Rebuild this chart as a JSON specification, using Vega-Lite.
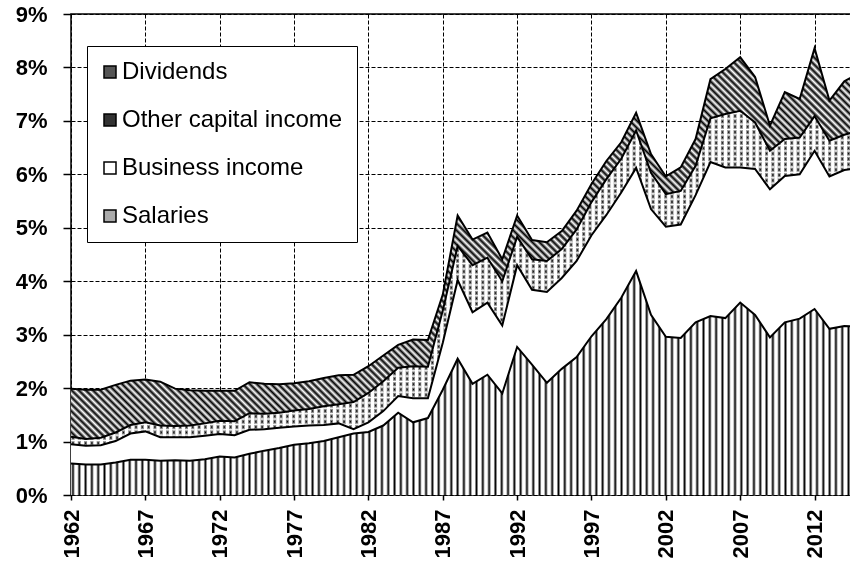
{
"$schema":"https://vega.github.io/schema/vega-lite/v6.json",
"width":780,"height":481,
"autosize":{"type":"none"},
"padding":{"left":71,"top":14,"right":0,"bottom":69},
"background":"#ffffff",
"config":{"view":{"stroke":"#000000","strokeWidth":1.5},"font":"Liberation Sans"},
"data":{"values":[
{"year":1962,"Salaries":0.59,"Business income":0.36,"Other capital income":0.14,"Dividends":0.90},
{"year":1963,"Salaries":0.57,"Business income":0.35,"Other capital income":0.13,"Dividends":0.92},
{"year":1964,"Salaries":0.57,"Business income":0.36,"Other capital income":0.14,"Dividends":0.90},
{"year":1965,"Salaries":0.61,"Business income":0.40,"Other capital income":0.16,"Dividends":0.89},
{"year":1966,"Salaries":0.66,"Business income":0.49,"Other capital income":0.16,"Dividends":0.83},
{"year":1967,"Salaries":0.66,"Business income":0.53,"Other capital income":0.17,"Dividends":0.80},
{"year":1968,"Salaries":0.64,"Business income":0.44,"Other capital income":0.22,"Dividends":0.82},
{"year":1969,"Salaries":0.65,"Business income":0.43,"Other capital income":0.21,"Dividends":0.70},
{"year":1970,"Salaries":0.64,"Business income":0.44,"Other capital income":0.22,"Dividends":0.66},
{"year":1971,"Salaries":0.67,"Business income":0.44,"Other capital income":0.23,"Dividends":0.61},
{"year":1972,"Salaries":0.72,"Business income":0.42,"Other capital income":0.25,"Dividends":0.56},
{"year":1973,"Salaries":0.70,"Business income":0.42,"Other capital income":0.26,"Dividends":0.57},
{"year":1974,"Salaries":0.77,"Business income":0.45,"Other capital income":0.31,"Dividends":0.58},
{"year":1975,"Salaries":0.83,"Business income":0.40,"Other capital income":0.29,"Dividends":0.56},
{"year":1976,"Salaries":0.88,"Business income":0.38,"Other capital income":0.28,"Dividends":0.53},
{"year":1977,"Salaries":0.94,"Business income":0.34,"Other capital income":0.30,"Dividends":0.51},
{"year":1978,"Salaries":0.97,"Business income":0.33,"Other capital income":0.31,"Dividends":0.52},
{"year":1979,"Salaries":1.01,"Business income":0.30,"Other capital income":0.35,"Dividends":0.53},
{"year":1980,"Salaries":1.08,"Business income":0.26,"Other capital income":0.36,"Dividends":0.54},
{"year":1981,"Salaries":1.15,"Business income":0.08,"Other capital income":0.51,"Dividends":0.51},
{"year":1982,"Salaries":1.18,"Business income":0.18,"Other capital income":0.55,"Dividends":0.50},
{"year":1983,"Salaries":1.30,"Business income":0.27,"Other capital income":0.56,"Dividends":0.48},
{"year":1984,"Salaries":1.54,"Business income":0.31,"Other capital income":0.53,"Dividends":0.43},
{"year":1985,"Salaries":1.36,"Business income":0.45,"Other capital income":0.60,"Dividends":0.50},
{"year":1986,"Salaries":1.44,"Business income":0.37,"Other capital income":0.59,"Dividends":0.50},
{"year":1987,"Salaries":1.97,"Business income":0.88,"Other capital income":0.60,"Dividends":0.30},
{"year":1988,"Salaries":2.55,"Business income":1.47,"Other capital income":0.64,"Dividends":0.57},
{"year":1989,"Salaries":2.08,"Business income":1.34,"Other capital income":0.88,"Dividends":0.48},
{"year":1990,"Salaries":2.25,"Business income":1.35,"Other capital income":0.84,"Dividends":0.47},
{"year":1991,"Salaries":1.90,"Business income":1.27,"Other capital income":0.83,"Dividends":0.41},
{"year":1992,"Salaries":2.77,"Business income":1.53,"Other capital income":0.53,"Dividends":0.40},
{"year":1993,"Salaries":2.44,"Business income":1.40,"Other capital income":0.57,"Dividends":0.36},
{"year":1994,"Salaries":2.10,"Business income":1.70,"Other capital income":0.58,"Dividends":0.35},
{"year":1995,"Salaries":2.36,"Business income":1.70,"Other capital income":0.54,"Dividends":0.34},
{"year":1996,"Salaries":2.58,"Business income":1.80,"Other capital income":0.59,"Dividends":0.35},
{"year":1997,"Salaries":2.97,"Business income":1.89,"Other capital income":0.62,"Dividends":0.34},
{"year":1998,"Salaries":3.29,"Business income":1.95,"Other capital income":0.67,"Dividends":0.34},
{"year":1999,"Salaries":3.69,"Business income":1.97,"Other capital income":0.63,"Dividends":0.31},
{"year":2000,"Salaries":4.19,"Business income":1.93,"Other capital income":0.70,"Dividends":0.33},
{"year":2001,"Salaries":3.37,"Business income":1.98,"Other capital income":0.68,"Dividends":0.35},
{"year":2002,"Salaries":2.96,"Business income":2.06,"Other capital income":0.61,"Dividends":0.33},
{"year":2003,"Salaries":2.94,"Business income":2.12,"Other capital income":0.63,"Dividends":0.44},
{"year":2004,"Salaries":3.23,"Business income":2.38,"Other capital income":0.55,"Dividends":0.50},
{"year":2005,"Salaries":3.35,"Business income":2.88,"Other capital income":0.82,"Dividends":0.73},
{"year":2006,"Salaries":3.31,"Business income":2.82,"Other capital income":1.00,"Dividends":0.84},
{"year":2007,"Salaries":3.60,"Business income":2.53,"Other capital income":1.06,"Dividends":1.00},
{"year":2008,"Salaries":3.37,"Business income":2.73,"Other capital income":0.87,"Dividends":0.85},
{"year":2009,"Salaries":2.95,"Business income":2.77,"Other capital income":0.72,"Dividends":0.47},
{"year":2010,"Salaries":3.23,"Business income":2.74,"Other capital income":0.69,"Dividends":0.88},
{"year":2011,"Salaries":3.30,"Business income":2.70,"Other capital income":0.69,"Dividends":0.72},
{"year":2012,"Salaries":3.48,"Business income":2.96,"Other capital income":0.65,"Dividends":1.27},
{"year":2013,"Salaries":3.11,"Business income":2.85,"Other capital income":0.67,"Dividends":0.75},
{"year":2014,"Salaries":3.16,"Business income":2.92,"Other capital income":0.66,"Dividends":1.00},
{"year":2015,"Salaries":3.15,"Business income":2.97,"Other capital income":0.70,"Dividends":1.08}
]},
"transform":[
{"fold":["Salaries","Business income","Other capital income","Dividends"],"as":["key","value"]},
{"stack":"value","groupby":["year"],"as":["lo","hi"]}
],
"encoding":{
"x":{"field":"year","type":"quantitative","scale":{"domain":[1962,2014.45],"nice":false,"zero":false},
"axis":{"values":[1962,1967,1972,1977,1982,1987,1992,1997,2002,2007,2012],"format":"d","title":null,"labelAngle":270,"labelAlign":"right","labelBaseline":"middle","labelFont":"Liberation Sans","labelFontSize":22,"labelFontWeight":"bold","labelColor":"#000000","labelPadding":9,"labelOverlap":false,"labelFlush":false,"tickSize":5,"tickColor":"#000000","tickWidth":1.5,"domain":false,"grid":true,"gridColor":"#000000","gridDash":[4,2],"gridWidth":1,"gridOpacity":1}},
"y":{"field":"hi","type":"quantitative","scale":{"domain":[0,9],"nice":false,"zero":true},
"axis":{"values":[0,1,2,3,4,5,6,7,8,9],"labelExpr":"datum.value + '%'","title":null,"labelFont":"Liberation Sans","labelFontSize":22,"labelFontWeight":"bold","labelColor":"#000000","labelPadding":16,"labelOverlap":false,"tickSize":8,"tickColor":"#000000","tickWidth":1.5,"domain":false,"grid":true,"gridColor":"#000000","gridDash":[4,2],"gridWidth":1,"gridOpacity":1}}
},
"layer":[
{"mark":{"type":"area","opacity":1},
"encoding":{"y2":{"field":"lo"},
"color":{"field":"key","type":"nominal","scale":{"domain":["Dividends","Other capital income","Business income","Salaries"],"range":["#555555","#333333","#ffffff","#aaaaaa"]},
"legend":{"orient":"none","legendX":16,"legendY":32,"title":null,"direction":"vertical","fillColor":"#ffffff","strokeColor":"#000000","padding":14,"symbolOffset":-3,"labelOffset":0,"rowPadding":24,"labelFont":"Liberation Sans","labelFontSize":24,"labelColor":"#000000","labelLimit":400,"symbolType":"square","symbolSize":144,"symbolStrokeColor":"#000000","symbolStrokeWidth":1.5,"symbolOpacity":1,"zindex":1}}}},
{"transform":[{"filter":"datum.key === 'Dividends'"}],
"mark":{"type":"area","opacity":1,"fill":{"gradient":"linear","x1":0,"y1":1,"x2":1.2,"y2":0.4,"stops":[
{"offset":0,"color":"#000"},{"offset":0.003,"color":"#fff"},{"offset":0.006,"color":"#000"},{"offset":0.009,"color":"#fff"},{"offset":0.012,"color":"#000"},{"offset":0.015,"color":"#fff"},{"offset":0.018,"color":"#000"},{"offset":0.021,"color":"#fff"},{"offset":0.024,"color":"#000"},{"offset":0.027,"color":"#fff"},
{"offset":0.03,"color":"#000"},{"offset":0.033,"color":"#fff"},{"offset":0.036,"color":"#000"},{"offset":0.039,"color":"#fff"},{"offset":0.042,"color":"#000"},{"offset":0.045,"color":"#fff"},{"offset":0.048,"color":"#000"},{"offset":0.051,"color":"#fff"},{"offset":0.054,"color":"#000"},{"offset":0.057,"color":"#fff"},
{"offset":0.06,"color":"#000"},{"offset":0.063,"color":"#fff"},{"offset":0.066,"color":"#000"},{"offset":0.069,"color":"#fff"},{"offset":0.072,"color":"#000"},{"offset":0.075,"color":"#fff"},{"offset":0.078,"color":"#000"},{"offset":0.081,"color":"#fff"},{"offset":0.084,"color":"#000"},{"offset":0.087,"color":"#fff"},
{"offset":0.09,"color":"#000"},{"offset":0.093,"color":"#fff"},{"offset":0.096,"color":"#000"},{"offset":0.099,"color":"#fff"},{"offset":0.102,"color":"#000"},{"offset":0.105,"color":"#fff"},{"offset":0.108,"color":"#000"},{"offset":0.111,"color":"#fff"},{"offset":0.114,"color":"#000"},{"offset":0.117,"color":"#fff"},
{"offset":0.12,"color":"#000"},{"offset":0.123,"color":"#fff"},{"offset":0.126,"color":"#000"},{"offset":0.129,"color":"#fff"},{"offset":0.132,"color":"#000"},{"offset":0.135,"color":"#fff"},{"offset":0.138,"color":"#000"},{"offset":0.141,"color":"#fff"},{"offset":0.144,"color":"#000"},{"offset":0.147,"color":"#fff"},
{"offset":0.15,"color":"#000"},{"offset":0.153,"color":"#fff"},{"offset":0.156,"color":"#000"},{"offset":0.159,"color":"#fff"},{"offset":0.162,"color":"#000"},{"offset":0.165,"color":"#fff"},{"offset":0.168,"color":"#000"},{"offset":0.171,"color":"#fff"},{"offset":0.174,"color":"#000"},{"offset":0.177,"color":"#fff"},
{"offset":0.18,"color":"#000"},{"offset":0.183,"color":"#fff"},{"offset":0.186,"color":"#000"},{"offset":0.189,"color":"#fff"},{"offset":0.192,"color":"#000"},{"offset":0.195,"color":"#fff"},{"offset":0.198,"color":"#000"},{"offset":0.201,"color":"#fff"},{"offset":0.204,"color":"#000"},{"offset":0.207,"color":"#fff"},
{"offset":0.21,"color":"#000"},{"offset":0.213,"color":"#fff"},{"offset":0.216,"color":"#000"},{"offset":0.219,"color":"#fff"},{"offset":0.222,"color":"#000"},{"offset":0.225,"color":"#fff"},{"offset":0.228,"color":"#000"},{"offset":0.231,"color":"#fff"},{"offset":0.234,"color":"#000"},{"offset":0.237,"color":"#fff"},
{"offset":0.24,"color":"#000"},{"offset":0.243,"color":"#fff"},{"offset":0.246,"color":"#000"},{"offset":0.249,"color":"#fff"},{"offset":0.252,"color":"#000"},{"offset":0.255,"color":"#fff"},{"offset":0.258,"color":"#000"},{"offset":0.261,"color":"#fff"},{"offset":0.264,"color":"#000"},{"offset":0.267,"color":"#fff"},
{"offset":0.27,"color":"#000"},{"offset":0.273,"color":"#fff"},{"offset":0.276,"color":"#000"},{"offset":0.279,"color":"#fff"},{"offset":0.282,"color":"#000"},{"offset":0.285,"color":"#fff"},{"offset":0.288,"color":"#000"},{"offset":0.291,"color":"#fff"},{"offset":0.294,"color":"#000"},{"offset":0.297,"color":"#fff"},
{"offset":0.3,"color":"#000"},{"offset":0.303,"color":"#fff"},{"offset":0.306,"color":"#000"},{"offset":0.309,"color":"#fff"},{"offset":0.312,"color":"#000"},{"offset":0.315,"color":"#fff"},{"offset":0.318,"color":"#000"},{"offset":0.321,"color":"#fff"},{"offset":0.324,"color":"#000"},{"offset":0.327,"color":"#fff"},
{"offset":0.33,"color":"#000"},{"offset":0.333,"color":"#fff"},{"offset":0.336,"color":"#000"},{"offset":0.339,"color":"#fff"},{"offset":0.342,"color":"#000"},{"offset":0.345,"color":"#fff"},{"offset":0.348,"color":"#000"},{"offset":0.351,"color":"#fff"},{"offset":0.354,"color":"#000"},{"offset":0.357,"color":"#fff"},
{"offset":0.36,"color":"#000"},{"offset":0.363,"color":"#fff"},{"offset":0.366,"color":"#000"},{"offset":0.369,"color":"#fff"},{"offset":0.372,"color":"#000"},{"offset":0.375,"color":"#fff"},{"offset":0.378,"color":"#000"},{"offset":0.381,"color":"#fff"},{"offset":0.384,"color":"#000"},{"offset":0.387,"color":"#fff"},
{"offset":0.39,"color":"#000"},{"offset":0.393,"color":"#fff"},{"offset":0.396,"color":"#000"},{"offset":0.399,"color":"#fff"},{"offset":0.402,"color":"#000"},{"offset":0.405,"color":"#fff"},{"offset":0.408,"color":"#000"},{"offset":0.411,"color":"#fff"},{"offset":0.414,"color":"#000"},{"offset":0.417,"color":"#fff"},
{"offset":0.42,"color":"#000"},{"offset":0.423,"color":"#fff"},{"offset":0.426,"color":"#000"},{"offset":0.429,"color":"#fff"},{"offset":0.432,"color":"#000"},{"offset":0.435,"color":"#fff"},{"offset":0.438,"color":"#000"},{"offset":0.441,"color":"#fff"},{"offset":0.444,"color":"#000"},{"offset":0.447,"color":"#fff"},
{"offset":0.45,"color":"#000"},{"offset":0.453,"color":"#fff"},{"offset":0.456,"color":"#000"},{"offset":0.459,"color":"#fff"},{"offset":0.462,"color":"#000"},{"offset":0.465,"color":"#fff"},{"offset":0.468,"color":"#000"},{"offset":0.471,"color":"#fff"},{"offset":0.474,"color":"#000"},{"offset":0.477,"color":"#fff"},
{"offset":0.48,"color":"#000"},{"offset":0.483,"color":"#fff"},{"offset":0.486,"color":"#000"},{"offset":0.489,"color":"#fff"},{"offset":0.492,"color":"#000"},{"offset":0.495,"color":"#fff"},{"offset":0.498,"color":"#000"},{"offset":0.501,"color":"#fff"},{"offset":0.504,"color":"#000"},{"offset":0.507,"color":"#fff"},
{"offset":0.51,"color":"#000"},{"offset":0.513,"color":"#fff"},{"offset":0.516,"color":"#000"},{"offset":0.519,"color":"#fff"},{"offset":0.522,"color":"#000"},{"offset":0.525,"color":"#fff"},{"offset":0.528,"color":"#000"},{"offset":0.531,"color":"#fff"},{"offset":0.534,"color":"#000"},{"offset":0.537,"color":"#fff"},
{"offset":0.54,"color":"#000"},{"offset":0.543,"color":"#fff"},{"offset":0.546,"color":"#000"},{"offset":0.549,"color":"#fff"},{"offset":0.552,"color":"#000"},{"offset":0.555,"color":"#fff"},{"offset":0.558,"color":"#000"},{"offset":0.561,"color":"#fff"},{"offset":0.564,"color":"#000"},{"offset":0.567,"color":"#fff"},
{"offset":0.57,"color":"#000"},{"offset":0.573,"color":"#fff"},{"offset":0.576,"color":"#000"},{"offset":0.579,"color":"#fff"},{"offset":0.582,"color":"#000"},{"offset":0.585,"color":"#fff"},{"offset":0.588,"color":"#000"},{"offset":0.591,"color":"#fff"},{"offset":0.594,"color":"#000"},{"offset":0.597,"color":"#fff"},
{"offset":0.6,"color":"#000"},{"offset":0.603,"color":"#fff"},{"offset":0.606,"color":"#000"},{"offset":0.609,"color":"#fff"},{"offset":0.612,"color":"#000"},{"offset":0.615,"color":"#fff"},{"offset":0.618,"color":"#000"},{"offset":0.621,"color":"#fff"},{"offset":0.624,"color":"#000"},{"offset":0.627,"color":"#fff"},
{"offset":0.63,"color":"#000"},{"offset":0.633,"color":"#fff"},{"offset":0.636,"color":"#000"},{"offset":0.639,"color":"#fff"},{"offset":0.642,"color":"#000"},{"offset":0.645,"color":"#fff"},{"offset":0.648,"color":"#000"},{"offset":0.651,"color":"#fff"},{"offset":0.654,"color":"#000"},{"offset":0.657,"color":"#fff"},
{"offset":0.66,"color":"#000"},{"offset":0.663,"color":"#fff"},{"offset":0.666,"color":"#000"},{"offset":0.669,"color":"#fff"},{"offset":0.672,"color":"#000"},{"offset":0.675,"color":"#fff"},{"offset":0.678,"color":"#000"},{"offset":0.681,"color":"#fff"},{"offset":0.684,"color":"#000"},{"offset":0.687,"color":"#fff"},
{"offset":0.69,"color":"#000"},{"offset":0.693,"color":"#fff"},{"offset":0.696,"color":"#000"},{"offset":0.699,"color":"#fff"},{"offset":0.702,"color":"#000"},{"offset":0.705,"color":"#fff"},{"offset":0.708,"color":"#000"},{"offset":0.711,"color":"#fff"},{"offset":0.714,"color":"#000"},{"offset":0.717,"color":"#fff"},
{"offset":0.72,"color":"#000"},{"offset":0.723,"color":"#fff"},{"offset":0.726,"color":"#000"},{"offset":0.729,"color":"#fff"},{"offset":0.732,"color":"#000"},{"offset":0.735,"color":"#fff"},{"offset":0.738,"color":"#000"},{"offset":0.741,"color":"#fff"},{"offset":0.744,"color":"#000"},{"offset":0.747,"color":"#fff"},
{"offset":0.75,"color":"#000"},{"offset":0.753,"color":"#fff"},{"offset":0.756,"color":"#000"},{"offset":0.759,"color":"#fff"},{"offset":0.762,"color":"#000"},{"offset":0.765,"color":"#fff"},{"offset":0.768,"color":"#000"},{"offset":0.771,"color":"#fff"},{"offset":0.774,"color":"#000"},{"offset":0.777,"color":"#fff"},
{"offset":0.78,"color":"#000"},{"offset":0.783,"color":"#fff"},{"offset":0.786,"color":"#000"},{"offset":0.789,"color":"#fff"},{"offset":0.792,"color":"#000"},{"offset":0.795,"color":"#fff"},{"offset":0.798,"color":"#000"},{"offset":0.801,"color":"#fff"},{"offset":0.804,"color":"#000"},{"offset":0.807,"color":"#fff"},
{"offset":0.81,"color":"#000"},{"offset":0.813,"color":"#fff"},{"offset":0.816,"color":"#000"},{"offset":0.819,"color":"#fff"},{"offset":0.822,"color":"#000"},{"offset":0.825,"color":"#fff"},{"offset":0.828,"color":"#000"},{"offset":0.831,"color":"#fff"},{"offset":0.834,"color":"#000"},{"offset":0.837,"color":"#fff"},
{"offset":0.84,"color":"#000"},{"offset":0.843,"color":"#fff"},{"offset":0.846,"color":"#000"},{"offset":0.849,"color":"#fff"},{"offset":0.852,"color":"#000"},{"offset":0.855,"color":"#fff"},{"offset":0.858,"color":"#000"},{"offset":0.861,"color":"#fff"},{"offset":0.864,"color":"#000"},{"offset":0.867,"color":"#fff"},
{"offset":0.87,"color":"#000"},{"offset":0.873,"color":"#fff"},{"offset":0.876,"color":"#000"},{"offset":0.879,"color":"#fff"},{"offset":0.882,"color":"#000"},{"offset":0.885,"color":"#fff"},{"offset":0.888,"color":"#000"},{"offset":0.891,"color":"#fff"},{"offset":0.894,"color":"#000"},{"offset":0.897,"color":"#fff"},
{"offset":0.9,"color":"#000"},{"offset":0.903,"color":"#fff"},{"offset":0.906,"color":"#000"},{"offset":0.909,"color":"#fff"},{"offset":0.912,"color":"#000"},{"offset":0.915,"color":"#fff"},{"offset":0.918,"color":"#000"},{"offset":0.921,"color":"#fff"},{"offset":0.924,"color":"#000"},{"offset":0.927,"color":"#fff"},
{"offset":0.93,"color":"#000"},{"offset":0.933,"color":"#fff"},{"offset":0.936,"color":"#000"},{"offset":0.939,"color":"#fff"},{"offset":0.942,"color":"#000"},{"offset":0.945,"color":"#fff"},{"offset":0.948,"color":"#000"},{"offset":0.951,"color":"#fff"},{"offset":0.954,"color":"#000"},{"offset":0.957,"color":"#fff"},
{"offset":0.96,"color":"#000"},{"offset":0.963,"color":"#fff"},{"offset":0.966,"color":"#000"},{"offset":0.969,"color":"#fff"},{"offset":0.972,"color":"#000"},{"offset":0.975,"color":"#fff"},{"offset":0.978,"color":"#000"},{"offset":0.981,"color":"#fff"},{"offset":0.984,"color":"#000"},{"offset":0.987,"color":"#fff"},
{"offset":0.99,"color":"#000"},{"offset":0.993,"color":"#fff"},{"offset":0.996,"color":"#000"},{"offset":0.999,"color":"#fff"}
]}},
"encoding":{"y2":{"field":"lo"}}},
{"transform":[{"filter":"datum.key === 'Other capital income'"}],
"mark":{"type":"area","opacity":1,"fill":{"gradient":"linear","x1":0,"y1":0,"x2":0,"y2":1,"stops":[
{"offset":0,"color":"#000"},{"offset":0.008,"color":"#fff"},{"offset":0.016,"color":"#000"},{"offset":0.024,"color":"#fff"},{"offset":0.032,"color":"#000"},{"offset":0.04,"color":"#fff"},{"offset":0.048,"color":"#000"},{"offset":0.056,"color":"#fff"},{"offset":0.064,"color":"#000"},{"offset":0.072,"color":"#fff"},{"offset":0.08,"color":"#000"},{"offset":0.088,"color":"#fff"},{"offset":0.096,"color":"#000"},{"offset":0.104,"color":"#fff"},{"offset":0.112,"color":"#000"},{"offset":0.12,"color":"#fff"},{"offset":0.128,"color":"#000"},{"offset":0.136,"color":"#fff"},{"offset":0.144,"color":"#000"},{"offset":0.152,"color":"#fff"},{"offset":0.16,"color":"#000"},{"offset":0.168,"color":"#fff"},{"offset":0.176,"color":"#000"},{"offset":0.184,"color":"#fff"},{"offset":0.192,"color":"#000"},
{"offset":0.2,"color":"#fff"},{"offset":0.208,"color":"#000"},{"offset":0.216,"color":"#fff"},{"offset":0.224,"color":"#000"},{"offset":0.232,"color":"#fff"},{"offset":0.24,"color":"#000"},{"offset":0.248,"color":"#fff"},{"offset":0.256,"color":"#000"},{"offset":0.264,"color":"#fff"},{"offset":0.272,"color":"#000"},{"offset":0.28,"color":"#fff"},{"offset":0.288,"color":"#000"},{"offset":0.296,"color":"#fff"},{"offset":0.304,"color":"#000"},{"offset":0.312,"color":"#fff"},{"offset":0.32,"color":"#000"},{"offset":0.328,"color":"#fff"},{"offset":0.336,"color":"#000"},{"offset":0.344,"color":"#fff"},{"offset":0.352,"color":"#000"},{"offset":0.36,"color":"#fff"},{"offset":0.368,"color":"#000"},{"offset":0.376,"color":"#fff"},{"offset":0.384,"color":"#000"},{"offset":0.392,"color":"#fff"},
{"offset":0.4,"color":"#000"},{"offset":0.408,"color":"#fff"},{"offset":0.416,"color":"#000"},{"offset":0.424,"color":"#fff"},{"offset":0.432,"color":"#000"},{"offset":0.44,"color":"#fff"},{"offset":0.448,"color":"#000"},{"offset":0.456,"color":"#fff"},{"offset":0.464,"color":"#000"},{"offset":0.472,"color":"#fff"},{"offset":0.48,"color":"#000"},{"offset":0.488,"color":"#fff"},{"offset":0.496,"color":"#000"},{"offset":0.504,"color":"#fff"},{"offset":0.512,"color":"#000"},{"offset":0.52,"color":"#fff"},{"offset":0.528,"color":"#000"},{"offset":0.536,"color":"#fff"},{"offset":0.544,"color":"#000"},{"offset":0.552,"color":"#fff"},{"offset":0.56,"color":"#000"},{"offset":0.568,"color":"#fff"},{"offset":0.576,"color":"#000"},{"offset":0.584,"color":"#fff"},{"offset":0.592,"color":"#000"},
{"offset":0.6,"color":"#fff"},{"offset":0.608,"color":"#000"},{"offset":0.616,"color":"#fff"},{"offset":0.624,"color":"#000"},{"offset":0.632,"color":"#fff"},{"offset":0.64,"color":"#000"},{"offset":0.648,"color":"#fff"},{"offset":0.656,"color":"#000"},{"offset":0.664,"color":"#fff"},{"offset":0.672,"color":"#000"},{"offset":0.68,"color":"#fff"},{"offset":0.688,"color":"#000"},{"offset":0.696,"color":"#fff"},{"offset":0.704,"color":"#000"},{"offset":0.712,"color":"#fff"},{"offset":0.72,"color":"#000"},{"offset":0.728,"color":"#fff"},{"offset":0.736,"color":"#000"},{"offset":0.744,"color":"#fff"},{"offset":0.752,"color":"#000"},{"offset":0.76,"color":"#fff"},{"offset":0.768,"color":"#000"},{"offset":0.776,"color":"#fff"},{"offset":0.784,"color":"#000"},{"offset":0.792,"color":"#fff"},
{"offset":0.8,"color":"#000"},{"offset":0.808,"color":"#fff"},{"offset":0.816,"color":"#000"},{"offset":0.824,"color":"#fff"},{"offset":0.832,"color":"#000"},{"offset":0.84,"color":"#fff"},{"offset":0.848,"color":"#000"},{"offset":0.856,"color":"#fff"},{"offset":0.864,"color":"#000"},{"offset":0.872,"color":"#fff"},{"offset":0.88,"color":"#000"},{"offset":0.888,"color":"#fff"},{"offset":0.896,"color":"#000"},{"offset":0.904,"color":"#fff"},{"offset":0.912,"color":"#000"},{"offset":0.92,"color":"#fff"},{"offset":0.928,"color":"#000"},{"offset":0.936,"color":"#fff"},{"offset":0.944,"color":"#000"},{"offset":0.952,"color":"#fff"},{"offset":0.96,"color":"#000"},{"offset":0.968,"color":"#fff"},{"offset":0.976,"color":"#000"},{"offset":0.984,"color":"#fff"},{"offset":0.992,"color":"#000"},
{"offset":1,"color":"#fff"}
]}},
"encoding":{"y2":{"field":"lo"}}},
{"transform":[{"filter":"datum.key === 'Salaries'"}],
"mark":{"type":"area","opacity":1,"fill":"#000000"},
"encoding":{"y2":{"field":"lo"}}},
{"transform":[{"filter":"datum.key === 'Other capital income' || datum.key === 'Salaries'"}],
"mark":{"type":"area","opacity":1,"blend":"lighten","fill":{"gradient":"linear","x1":0,"y1":0,"x2":1,"y2":0,"stops":[
{"offset":0,"color":"#fff"},{"offset":0.0025,"color":"#000"},{"offset":0.005,"color":"#fff"},{"offset":0.008,"color":"#fff"},{"offset":0.0105,"color":"#000"},{"offset":0.013,"color":"#fff"},{"offset":0.016,"color":"#fff"},{"offset":0.0185,"color":"#000"},{"offset":0.021,"color":"#fff"},{"offset":0.024,"color":"#fff"},{"offset":0.0265,"color":"#000"},{"offset":0.029,"color":"#fff"},{"offset":0.032,"color":"#fff"},{"offset":0.0345,"color":"#000"},{"offset":0.037,"color":"#fff"},{"offset":0.04,"color":"#fff"},{"offset":0.0425,"color":"#000"},{"offset":0.045,"color":"#fff"},{"offset":0.048,"color":"#fff"},{"offset":0.0505,"color":"#000"},{"offset":0.053,"color":"#fff"},{"offset":0.056,"color":"#fff"},{"offset":0.0585,"color":"#000"},{"offset":0.061,"color":"#fff"},{"offset":0.064,"color":"#fff"},{"offset":0.0665,"color":"#000"},{"offset":0.069,"color":"#fff"},{"offset":0.072,"color":"#fff"},{"offset":0.0745,"color":"#000"},{"offset":0.077,"color":"#fff"},{"offset":0.08,"color":"#fff"},{"offset":0.0825,"color":"#000"},{"offset":0.085,"color":"#fff"},{"offset":0.088,"color":"#fff"},{"offset":0.0905,"color":"#000"},{"offset":0.093,"color":"#fff"},{"offset":0.096,"color":"#fff"},{"offset":0.0985,"color":"#000"},{"offset":0.101,"color":"#fff"},{"offset":0.104,"color":"#fff"},{"offset":0.1065,"color":"#000"},{"offset":0.109,"color":"#fff"},{"offset":0.112,"color":"#fff"},{"offset":0.1145,"color":"#000"},{"offset":0.117,"color":"#fff"},{"offset":0.12,"color":"#fff"},{"offset":0.1225,"color":"#000"},{"offset":0.125,"color":"#fff"},{"offset":0.128,"color":"#fff"},{"offset":0.1305,"color":"#000"},{"offset":0.133,"color":"#fff"},{"offset":0.136,"color":"#fff"},{"offset":0.1385,"color":"#000"},{"offset":0.141,"color":"#fff"},{"offset":0.144,"color":"#fff"},{"offset":0.1465,"color":"#000"},{"offset":0.149,"color":"#fff"},{"offset":0.152,"color":"#fff"},{"offset":0.1545,"color":"#000"},{"offset":0.157,"color":"#fff"},{"offset":0.16,"color":"#fff"},{"offset":0.1625,"color":"#000"},{"offset":0.165,"color":"#fff"},{"offset":0.168,"color":"#fff"},{"offset":0.1705,"color":"#000"},{"offset":0.173,"color":"#fff"},{"offset":0.176,"color":"#fff"},{"offset":0.1785,"color":"#000"},{"offset":0.181,"color":"#fff"},{"offset":0.184,"color":"#fff"},{"offset":0.1865,"color":"#000"},{"offset":0.189,"color":"#fff"},{"offset":0.192,"color":"#fff"},{"offset":0.1945,"color":"#000"},{"offset":0.197,"color":"#fff"},
{"offset":0.2,"color":"#fff"},{"offset":0.2025,"color":"#000"},{"offset":0.205,"color":"#fff"},{"offset":0.208,"color":"#fff"},{"offset":0.2105,"color":"#000"},{"offset":0.213,"color":"#fff"},{"offset":0.216,"color":"#fff"},{"offset":0.2185,"color":"#000"},{"offset":0.221,"color":"#fff"},{"offset":0.224,"color":"#fff"},{"offset":0.2265,"color":"#000"},{"offset":0.229,"color":"#fff"},{"offset":0.232,"color":"#fff"},{"offset":0.2345,"color":"#000"},{"offset":0.237,"color":"#fff"},{"offset":0.24,"color":"#fff"},{"offset":0.2425,"color":"#000"},{"offset":0.245,"color":"#fff"},{"offset":0.248,"color":"#fff"},{"offset":0.2505,"color":"#000"},{"offset":0.253,"color":"#fff"},{"offset":0.256,"color":"#fff"},{"offset":0.2585,"color":"#000"},{"offset":0.261,"color":"#fff"},{"offset":0.264,"color":"#fff"},{"offset":0.2665,"color":"#000"},{"offset":0.269,"color":"#fff"},{"offset":0.272,"color":"#fff"},{"offset":0.2745,"color":"#000"},{"offset":0.277,"color":"#fff"},{"offset":0.28,"color":"#fff"},{"offset":0.2825,"color":"#000"},{"offset":0.285,"color":"#fff"},{"offset":0.288,"color":"#fff"},{"offset":0.2905,"color":"#000"},{"offset":0.293,"color":"#fff"},{"offset":0.296,"color":"#fff"},{"offset":0.2985,"color":"#000"},{"offset":0.301,"color":"#fff"},{"offset":0.304,"color":"#fff"},{"offset":0.3065,"color":"#000"},{"offset":0.309,"color":"#fff"},{"offset":0.312,"color":"#fff"},{"offset":0.3145,"color":"#000"},{"offset":0.317,"color":"#fff"},{"offset":0.32,"color":"#fff"},{"offset":0.3225,"color":"#000"},{"offset":0.325,"color":"#fff"},{"offset":0.328,"color":"#fff"},{"offset":0.3305,"color":"#000"},{"offset":0.333,"color":"#fff"},{"offset":0.336,"color":"#fff"},{"offset":0.3385,"color":"#000"},{"offset":0.341,"color":"#fff"},{"offset":0.344,"color":"#fff"},{"offset":0.3465,"color":"#000"},{"offset":0.349,"color":"#fff"},{"offset":0.352,"color":"#fff"},{"offset":0.3545,"color":"#000"},{"offset":0.357,"color":"#fff"},{"offset":0.36,"color":"#fff"},{"offset":0.3625,"color":"#000"},{"offset":0.365,"color":"#fff"},{"offset":0.368,"color":"#fff"},{"offset":0.3705,"color":"#000"},{"offset":0.373,"color":"#fff"},{"offset":0.376,"color":"#fff"},{"offset":0.3785,"color":"#000"},{"offset":0.381,"color":"#fff"},{"offset":0.384,"color":"#fff"},{"offset":0.3865,"color":"#000"},{"offset":0.389,"color":"#fff"},{"offset":0.392,"color":"#fff"},{"offset":0.3945,"color":"#000"},{"offset":0.397,"color":"#fff"},
{"offset":0.4,"color":"#fff"},{"offset":0.4025,"color":"#000"},{"offset":0.405,"color":"#fff"},{"offset":0.408,"color":"#fff"},{"offset":0.4105,"color":"#000"},{"offset":0.413,"color":"#fff"},{"offset":0.416,"color":"#fff"},{"offset":0.4185,"color":"#000"},{"offset":0.421,"color":"#fff"},{"offset":0.424,"color":"#fff"},{"offset":0.4265,"color":"#000"},{"offset":0.429,"color":"#fff"},{"offset":0.432,"color":"#fff"},{"offset":0.4345,"color":"#000"},{"offset":0.437,"color":"#fff"},{"offset":0.44,"color":"#fff"},{"offset":0.4425,"color":"#000"},{"offset":0.445,"color":"#fff"},{"offset":0.448,"color":"#fff"},{"offset":0.4505,"color":"#000"},{"offset":0.453,"color":"#fff"},{"offset":0.456,"color":"#fff"},{"offset":0.4585,"color":"#000"},{"offset":0.461,"color":"#fff"},{"offset":0.464,"color":"#fff"},{"offset":0.4665,"color":"#000"},{"offset":0.469,"color":"#fff"},{"offset":0.472,"color":"#fff"},{"offset":0.4745,"color":"#000"},{"offset":0.477,"color":"#fff"},{"offset":0.48,"color":"#fff"},{"offset":0.4825,"color":"#000"},{"offset":0.485,"color":"#fff"},{"offset":0.488,"color":"#fff"},{"offset":0.4905,"color":"#000"},{"offset":0.493,"color":"#fff"},{"offset":0.496,"color":"#fff"},{"offset":0.4985,"color":"#000"},{"offset":0.501,"color":"#fff"},{"offset":0.504,"color":"#fff"},{"offset":0.5065,"color":"#000"},{"offset":0.509,"color":"#fff"},{"offset":0.512,"color":"#fff"},{"offset":0.5145,"color":"#000"},{"offset":0.517,"color":"#fff"},{"offset":0.52,"color":"#fff"},{"offset":0.5225,"color":"#000"},{"offset":0.525,"color":"#fff"},{"offset":0.528,"color":"#fff"},{"offset":0.5305,"color":"#000"},{"offset":0.533,"color":"#fff"},{"offset":0.536,"color":"#fff"},{"offset":0.5385,"color":"#000"},{"offset":0.541,"color":"#fff"},{"offset":0.544,"color":"#fff"},{"offset":0.5465,"color":"#000"},{"offset":0.549,"color":"#fff"},{"offset":0.552,"color":"#fff"},{"offset":0.5545,"color":"#000"},{"offset":0.557,"color":"#fff"},{"offset":0.56,"color":"#fff"},{"offset":0.5625,"color":"#000"},{"offset":0.565,"color":"#fff"},{"offset":0.568,"color":"#fff"},{"offset":0.5705,"color":"#000"},{"offset":0.573,"color":"#fff"},{"offset":0.576,"color":"#fff"},{"offset":0.5785,"color":"#000"},{"offset":0.581,"color":"#fff"},{"offset":0.584,"color":"#fff"},{"offset":0.5865,"color":"#000"},{"offset":0.589,"color":"#fff"},{"offset":0.592,"color":"#fff"},{"offset":0.5945,"color":"#000"},{"offset":0.597,"color":"#fff"},
{"offset":0.6,"color":"#fff"},{"offset":0.6025,"color":"#000"},{"offset":0.605,"color":"#fff"},{"offset":0.608,"color":"#fff"},{"offset":0.6105,"color":"#000"},{"offset":0.613,"color":"#fff"},{"offset":0.616,"color":"#fff"},{"offset":0.6185,"color":"#000"},{"offset":0.621,"color":"#fff"},{"offset":0.624,"color":"#fff"},{"offset":0.6265,"color":"#000"},{"offset":0.629,"color":"#fff"},{"offset":0.632,"color":"#fff"},{"offset":0.6345,"color":"#000"},{"offset":0.637,"color":"#fff"},{"offset":0.64,"color":"#fff"},{"offset":0.6425,"color":"#000"},{"offset":0.645,"color":"#fff"},{"offset":0.648,"color":"#fff"},{"offset":0.6505,"color":"#000"},{"offset":0.653,"color":"#fff"},{"offset":0.656,"color":"#fff"},{"offset":0.6585,"color":"#000"},{"offset":0.661,"color":"#fff"},{"offset":0.664,"color":"#fff"},{"offset":0.6665,"color":"#000"},{"offset":0.669,"color":"#fff"},{"offset":0.672,"color":"#fff"},{"offset":0.6745,"color":"#000"},{"offset":0.677,"color":"#fff"},{"offset":0.68,"color":"#fff"},{"offset":0.6825,"color":"#000"},{"offset":0.685,"color":"#fff"},{"offset":0.688,"color":"#fff"},{"offset":0.6905,"color":"#000"},{"offset":0.693,"color":"#fff"},{"offset":0.696,"color":"#fff"},{"offset":0.6985,"color":"#000"},{"offset":0.701,"color":"#fff"},{"offset":0.704,"color":"#fff"},{"offset":0.7065,"color":"#000"},{"offset":0.709,"color":"#fff"},{"offset":0.712,"color":"#fff"},{"offset":0.7145,"color":"#000"},{"offset":0.717,"color":"#fff"},{"offset":0.72,"color":"#fff"},{"offset":0.7225,"color":"#000"},{"offset":0.725,"color":"#fff"},{"offset":0.728,"color":"#fff"},{"offset":0.7305,"color":"#000"},{"offset":0.733,"color":"#fff"},{"offset":0.736,"color":"#fff"},{"offset":0.7385,"color":"#000"},{"offset":0.741,"color":"#fff"},{"offset":0.744,"color":"#fff"},{"offset":0.7465,"color":"#000"},{"offset":0.749,"color":"#fff"},{"offset":0.752,"color":"#fff"},{"offset":0.7545,"color":"#000"},{"offset":0.757,"color":"#fff"},{"offset":0.76,"color":"#fff"},{"offset":0.7625,"color":"#000"},{"offset":0.765,"color":"#fff"},{"offset":0.768,"color":"#fff"},{"offset":0.7705,"color":"#000"},{"offset":0.773,"color":"#fff"},{"offset":0.776,"color":"#fff"},{"offset":0.7785,"color":"#000"},{"offset":0.781,"color":"#fff"},{"offset":0.784,"color":"#fff"},{"offset":0.7865,"color":"#000"},{"offset":0.789,"color":"#fff"},{"offset":0.792,"color":"#fff"},{"offset":0.7945,"color":"#000"},{"offset":0.797,"color":"#fff"},
{"offset":0.8,"color":"#fff"},{"offset":0.8025,"color":"#000"},{"offset":0.805,"color":"#fff"},{"offset":0.808,"color":"#fff"},{"offset":0.8105,"color":"#000"},{"offset":0.813,"color":"#fff"},{"offset":0.816,"color":"#fff"},{"offset":0.8185,"color":"#000"},{"offset":0.821,"color":"#fff"},{"offset":0.824,"color":"#fff"},{"offset":0.8265,"color":"#000"},{"offset":0.829,"color":"#fff"},{"offset":0.832,"color":"#fff"},{"offset":0.8345,"color":"#000"},{"offset":0.837,"color":"#fff"},{"offset":0.84,"color":"#fff"},{"offset":0.8425,"color":"#000"},{"offset":0.845,"color":"#fff"},{"offset":0.848,"color":"#fff"},{"offset":0.8505,"color":"#000"},{"offset":0.853,"color":"#fff"},{"offset":0.856,"color":"#fff"},{"offset":0.8585,"color":"#000"},{"offset":0.861,"color":"#fff"},{"offset":0.864,"color":"#fff"},{"offset":0.8665,"color":"#000"},{"offset":0.869,"color":"#fff"},{"offset":0.872,"color":"#fff"},{"offset":0.8745,"color":"#000"},{"offset":0.877,"color":"#fff"},{"offset":0.88,"color":"#fff"},{"offset":0.8825,"color":"#000"},{"offset":0.885,"color":"#fff"},{"offset":0.888,"color":"#fff"},{"offset":0.8905,"color":"#000"},{"offset":0.893,"color":"#fff"},{"offset":0.896,"color":"#fff"},{"offset":0.8985,"color":"#000"},{"offset":0.901,"color":"#fff"},{"offset":0.904,"color":"#fff"},{"offset":0.9065,"color":"#000"},{"offset":0.909,"color":"#fff"},{"offset":0.912,"color":"#fff"},{"offset":0.9145,"color":"#000"},{"offset":0.917,"color":"#fff"},{"offset":0.92,"color":"#fff"},{"offset":0.9225,"color":"#000"},{"offset":0.925,"color":"#fff"},{"offset":0.928,"color":"#fff"},{"offset":0.9305,"color":"#000"},{"offset":0.933,"color":"#fff"},{"offset":0.936,"color":"#fff"},{"offset":0.9385,"color":"#000"},{"offset":0.941,"color":"#fff"},{"offset":0.944,"color":"#fff"},{"offset":0.9465,"color":"#000"},{"offset":0.949,"color":"#fff"},{"offset":0.952,"color":"#fff"},{"offset":0.9545,"color":"#000"},{"offset":0.957,"color":"#fff"},{"offset":0.96,"color":"#fff"},{"offset":0.9625,"color":"#000"},{"offset":0.965,"color":"#fff"},{"offset":0.968,"color":"#fff"},{"offset":0.9705,"color":"#000"},{"offset":0.973,"color":"#fff"},{"offset":0.976,"color":"#fff"},{"offset":0.9785,"color":"#000"},{"offset":0.981,"color":"#fff"},{"offset":0.984,"color":"#fff"},{"offset":0.9865,"color":"#000"},{"offset":0.989,"color":"#fff"},{"offset":0.992,"color":"#fff"},{"offset":0.9945,"color":"#000"},{"offset":0.997,"color":"#fff"},
{"offset":1,"color":"#fff"}
]}},
"encoding":{"y2":{"field":"lo"},"detail":{"field":"key"}}},
{"mark":{"type":"line","color":"#000000","strokeWidth":2},
"encoding":{"detail":{"field":"key"}}},
{"data":{"values":[{}]},
"mark":{"type":"rule","color":"#000000","strokeWidth":2},
"encoding":{"x":{"datum":1962},"y":{"datum":0},"y2":{"datum":9}}},
{"data":{"values":[{}]},
"mark":{"type":"rule","color":"#000000","strokeWidth":2},
"encoding":{"y":{"datum":0},"x":{"datum":1962},"x2":{"datum":2014.45}}}
]
}
